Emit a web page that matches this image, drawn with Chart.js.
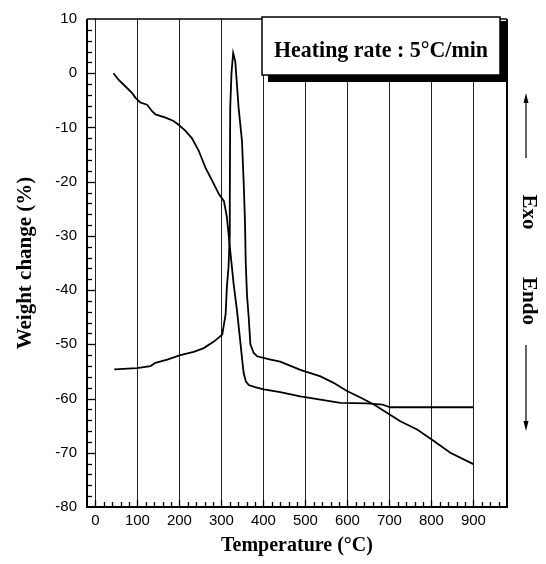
<!DOCTYPE html>
<html>
<head>
<meta charset="utf-8">
<title>Weight change vs temperature</title>
<script src="https://cdn.jsdelivr.net/npm/chart.js@4.4.0/dist/chart.umd.min.js"></script>
<style>
   html,
   body {
      margin: 0;
      padding: 0;
      background: #fff;
   }
   #chart-wrap {
      width: 546px;
      height: 564px;
   }
</style>
</head>
<body>
<div id="chart-wrap"><canvas id="myChart" width="546" height="564"></canvas></div>
<script>
/*** REGION 1 - Data */
// TGA: weight change (%) vs temperature
var gTgaTemp = [43, 55, 71, 87, 95, 107, 123, 135, 143, 167, 186, 198, 214, 230, 246, 262, 278, 294, 306, 313, 321,
   329, 337, 345, 349, 353, 358, 365, 380, 401, 440, 488, 536, 583, 647, 683, 702, 900];
var gTgaWeight = [0, -1.2, -2.4, -3.6, -4.5, -5.4, -5.8, -7.0, -7.6, -8.2, -8.8, -9.5, -10.6, -12.0, -14.3, -17.4,
   -19.8, -22.3, -23.6, -26.5, -32.7, -38.8, -43.7, -49.5, -52.5, -55.3, -56.8, -57.5, -57.9, -58.3, -58.8, -59.6,
   -60.2, -60.8, -60.9, -61.1, -61.6, -61.6];

// DTA trace (drawn on the same axes)
var gDtaTemp = [45, 99, 131, 143, 171, 202, 234, 258, 282, 302, 310, 313, 317, 320, 320, 321, 324, 328, 333, 341,
   349, 353, 356, 358, 361, 365, 369, 377, 385, 417, 440, 488, 536, 567, 599, 631, 663, 694, 726, 766, 805, 845, 900];
var gDtaSignal = [-54.6, -54.4, -54.0, -53.4, -52.8, -52.0, -51.4, -50.7, -49.5, -48.2, -44.5, -39.5, -35.7, -29.6,
   -23.5, -6.4, 0, 3.7, 2.2, -6.4, -12.5, -20, -27, -35, -41, -45, -50, -51.6, -52.2, -52.8, -53.2, -54.7, -55.9,
   -57.1, -58.6, -59.8, -61.1, -62.6, -64.2, -65.7, -67.8, -70.0, -72.1];

// tick labels
var gXTicks = [0, 100, 200, 300, 400, 500, 600, 700, 800, 900];
var gYTicks = [10, 0, -10, -20, -30, -40, -50, -60, -70, -80];

/*** REGION 2 - Helpers */
function toPoints(paramX, paramY) {
   return paramX.map(function (item, i) {
      return { x: item, y: paramY[i] };
   });
}

//Khung, vạch chia phụ
var gFramePlugin = {
   id: "frameTicks",
   afterDatasetsDraw: function (chart) {
      var ctx = chart.ctx;
      var a = chart.chartArea;
      var sx = chart.scales.x;
      var sy = chart.scales.y;
      ctx.save();
      ctx.strokeStyle = "#000";
      ctx.lineWidth = 1.3;
      // left axis: minor every 2, major every 10 (inward)
      for (var v = -78; v < 10; v += 2) {
         var py = Math.round(sy.getPixelForValue(v)) + 0.5;
         var len = v % 10 === 0 ? 8 : 5;
         ctx.beginPath();
         ctx.moveTo(a.left, py);
         ctx.lineTo(a.left + len, py);
         ctx.stroke();
      }
      // bottom axis: minor every 20
      for (var t = 0; t < 980; t += 20) {
         var px = Math.round(sx.getPixelForValue(t)) + 0.5;
         ctx.beginPath();
         ctx.moveTo(px, a.bottom);
         ctx.lineTo(px, a.bottom - (t % 100 === 0 ? 7 : 5));
         ctx.stroke();
      }
      // frame
      ctx.lineWidth = 2;
      ctx.beginPath();
      ctx.moveTo(a.left, a.top);
      ctx.lineTo(a.left, a.bottom);
      ctx.lineTo(a.right, a.bottom);
      ctx.lineTo(a.right, a.top);
      ctx.stroke();
      ctx.lineWidth = 1.5;
      ctx.beginPath();
      ctx.moveTo(a.left, a.top);
      ctx.lineTo(a.right, a.top);
      ctx.stroke();
      ctx.restore();
   },
};

//Hộp chú thích + Exo / Endo
var gNotePlugin = {
   id: "notes",
   afterDraw: function (chart) {
      var ctx = chart.ctx;
      var a = chart.chartArea;
      ctx.save();
      // box with shadow
      var bx = a.left + 175;
      var by = a.top - 2;
      var bw = a.right - 7 - bx;
      var bh = 58;
      ctx.fillStyle = "#000";
      ctx.fillRect(bx + 6, by + bh, bw + 1, 7);
      ctx.fillRect(bx + bw, by + 4, 7, bh + 3);
      ctx.fillStyle = "#fff";
      ctx.fillRect(bx, by, bw, bh);
      ctx.strokeStyle = "#000";
      ctx.lineWidth = 1.5;
      ctx.strokeRect(bx, by, bw, bh);

      var vText = "Heating rate : 5°C/min";
      ctx.font = 'bold 23px "Liberation Serif"';
      ctx.fillStyle = "#000";
      ctx.textAlign = "center";
      ctx.textBaseline = "alphabetic";
      var w = ctx.measureText(vText).width;
      ctx.translate(bx + bw / 2, by + 40);
      ctx.scale(214 / w, 1);
      ctx.fillText(vText, 0, 0);
      ctx.restore();

      // Exo / Endo, rotated
      var cx = a.right + 21;
      ctx.save();
      ctx.font = 'bold 21px "Liberation Serif"';
      ctx.fillStyle = "#000";
      ctx.textAlign = "center";
      ctx.textBaseline = "middle";
      [["Exo", 212], ["Endo", 301]].forEach(function (item) {
         ctx.save();
         ctx.translate(cx, item[1]);
         ctx.rotate(Math.PI / 2);
         ctx.fillText(item[0], 0, 0);
         ctx.restore();
      });
      // arrows
      ctx.strokeStyle = "#000";
      ctx.lineWidth = 1.2;
      var ax = cx - 2;
      ctx.beginPath();
      ctx.moveTo(ax, 158);
      ctx.lineTo(ax, 98);
      ctx.moveTo(ax, 345);
      ctx.lineTo(ax, 426);
      ctx.stroke();
      ctx.beginPath();
      ctx.moveTo(ax, 93);
      ctx.lineTo(ax - 2.5, 103);
      ctx.lineTo(ax + 2.5, 103);
      ctx.closePath();
      ctx.moveTo(ax, 431);
      ctx.lineTo(ax - 2.5, 421);
      ctx.lineTo(ax + 2.5, 421);
      ctx.closePath();
      ctx.fillStyle = "#000";
      ctx.fill();
      ctx.restore();
   },
};

/*** REGION 3 - Chart */
var gLineStyle = {
   showLine: true,
   borderColor: "#000",
   borderWidth: 1.8,
   pointRadius: 0,
   fill: false,
   tension: 0,
};

new Chart(document.getElementById("myChart"), {
   type: "scatter",
   data: {
      datasets: [
         Object.assign({ label: "Weight change", data: toPoints(gTgaTemp, gTgaWeight) }, gLineStyle),
         Object.assign({ label: "DTA", data: toPoints(gDtaTemp, gDtaSignal) }, gLineStyle),
      ],
   },
   options: {
      responsive: false,
      animation: false,
      layout: { padding: { left: 0, right: 39, top: 15, bottom: 0 } },
      plugins: {
         legend: { display: false },
         tooltip: { enabled: false },
      },
      scales: {
         x: {
            type: "linear",
            min: -20,
            max: 980,
            afterBuildTicks: function (scale) {
               scale.ticks = gXTicks.map(function (v) {
                  return { value: v };
               });
            },
            afterFit: function (scale) {
               scale.height = 57;
            },
            ticks: {
               color: "#000",
               padding: 5,
               maxRotation: 0,
               font: { family: "Liberation Sans", size: 15 },
            },
            grid: { color: "#222", lineWidth: 1, drawTicks: false },
            border: { display: false },
            title: {
               display: true,
               text: "Temperature (°C)",
               color: "#000",
               font: { family: "Liberation Serif", size: 20, weight: "bold" },
               padding: { top: 0, bottom: 6 },
            },
         },
         y: {
            type: "linear",
            min: -80,
            max: 10,
            afterBuildTicks: function (scale) {
               scale.ticks = gYTicks.map(function (v) {
                  return { value: v };
               });
            },
            afterFit: function (scale) {
               scale.width = 87;
            },
            ticks: {
               color: "#000",
               padding: 10,
               font: { family: "Liberation Sans", size: 15 },
            },
            grid: { display: false, drawTicks: false },
            border: { display: false },
            title: {
               display: true,
               text: "Weight change (%)",
               color: "#000",
               font: { family: "Liberation Serif", size: 21, weight: "bold" },
               padding: { top: 13, bottom: 0 },
            },
         },
      },
   },
   plugins: [gFramePlugin, gNotePlugin],
});
</script>
</body>
</html>
